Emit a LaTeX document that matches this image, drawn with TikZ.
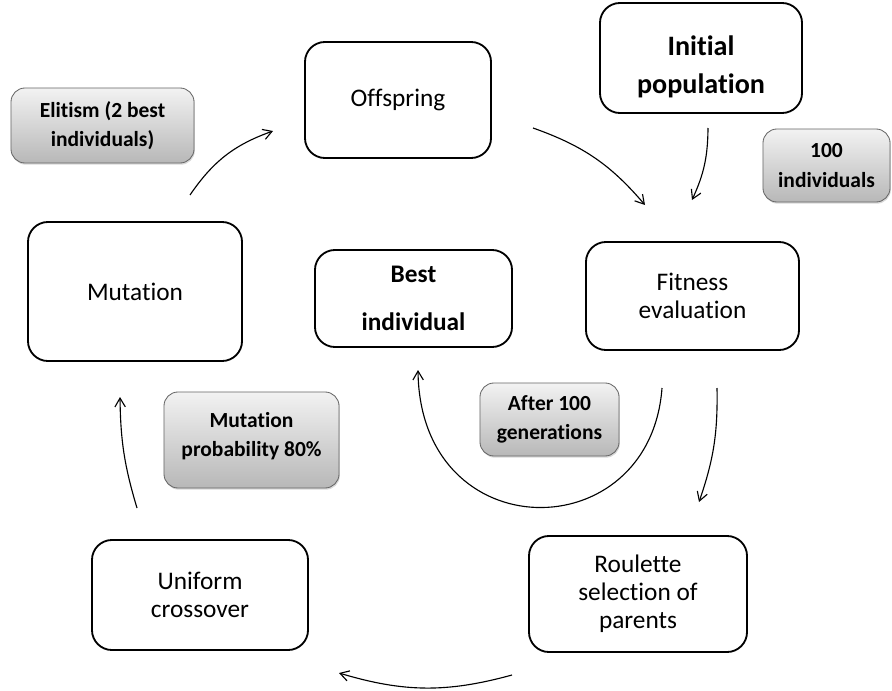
\documentclass[tikz,border=0pt]{standalone}
\usepackage{fontspec}
\setmainfont{Carlito}[Ligatures=NoCommon]
\usetikzlibrary{arrows.meta, shadows}

\begin{document}
\begin{tikzpicture}[
    x=0.025cm, y=-0.025cm,
    stage/.style={rectangle, rounded corners=0.5cm, draw=black, line width=1.3pt, fill=white, align=center, inner sep=2pt, font=\fontsize{18}{20}\selectfont},
    note/.style={rectangle, rounded corners=0.35cm, draw=black!60, line width=0.6pt, top color=black!5, bottom color=black!28, align=center, font=\fontsize{15.3}{21}\selectfont\bfseries, drop shadow={opacity=0.3, shadow xshift=0.6pt, shadow yshift=-1.2pt}},
    arr/.style={-{Straight Barb[length=2.2mm, width=2.6mm]}, line width=0.8pt}
]
\useasboundingbox (0,0) rectangle (892,690);

% Nodes
\node[stage, minimum width=4.65cm, minimum height=2.9cm] (off) at (398,100) {Offspring};
\node[stage, minimum width=5.05cm, minimum height=2.75cm, font=\fontsize{20}{27}\selectfont\bfseries] (init) at (701,58) {\rule{0pt}{27pt}Initial\\population};
\node[note, minimum width=4.575cm, minimum height=1.875cm] (elit) at (102.5,125.5) {Elitism (2 best\\individuals)};
\node[note, minimum width=3.175cm, minimum height=1.825cm] (popsize) at (826.5,165.5) {100\\individuals};
\node[stage, minimum width=5.35cm, minimum height=3.475cm] (mut) at (135,291.5) {Mutation};
\node[stage, minimum width=4.925cm, minimum height=2.425cm, font=\fontsize{18}{34}\selectfont\bfseries] (best) at (413.5,298.5) {Best\\individual};
\node[stage, minimum width=5.325cm, minimum height=2.7cm] (fit) at (692.5,296) {Fitness\\evaluation};
\node[note, minimum width=3.475cm, minimum height=1.825cm] (gens) at (549.5,419.5) {After 100\\generations};
\node[note, minimum width=4.375cm, minimum height=2.4cm] (mutprob) at (251.5,440) {Mutation\\probability 80\%\rule[-8pt]{0pt}{0pt}};
\node[stage, minimum width=5.4cm, minimum height=2.75cm] (cross) at (200,595) {Uniform\\crossover};
\node[stage, minimum width=5.45cm, minimum height=2.9cm] (roul) at (638,594) {Roulette\\selection of\\parents};

% Arrow ends
\coordinate (mut-out) at (190,195);
\coordinate (off-in) at (273,131);
\coordinate (off-out) at (533,128);
\coordinate (fit-in1) at (645,205);
\coordinate (init-out) at (708,128);
\coordinate (fit-in2) at (692,200);
\coordinate (fit-out1) at (717,388);
\coordinate (roul-in) at (699,502);
\coordinate (roul-out) at (512,675);
\coordinate (cross-in) at (339,673);
\coordinate (cross-out) at (137,508);
\coordinate (mut-in) at (120,397);
\coordinate (fit-out2) at (662,388);
\coordinate (best-in) at (418,370);

% Arrows
\draw[arr] (mut-out) to[bend left=18] (off-in);
\draw[arr] (off-out) to[bend left=15] (fit-in1);
\draw[arr] (init-out) to[bend left=12] (fit-in2);
\draw[arr] (fit-out1) to[bend left=10] (roul-in);
\draw[arr] (roul-out) to[bend left=16] (cross-in);
\draw[arr] (cross-out) to[bend left=8] (mut-in);
\draw[arr] (fit-out2) .. controls (650,550) and (420,550) .. (best-in);

\end{tikzpicture}
\end{document}
